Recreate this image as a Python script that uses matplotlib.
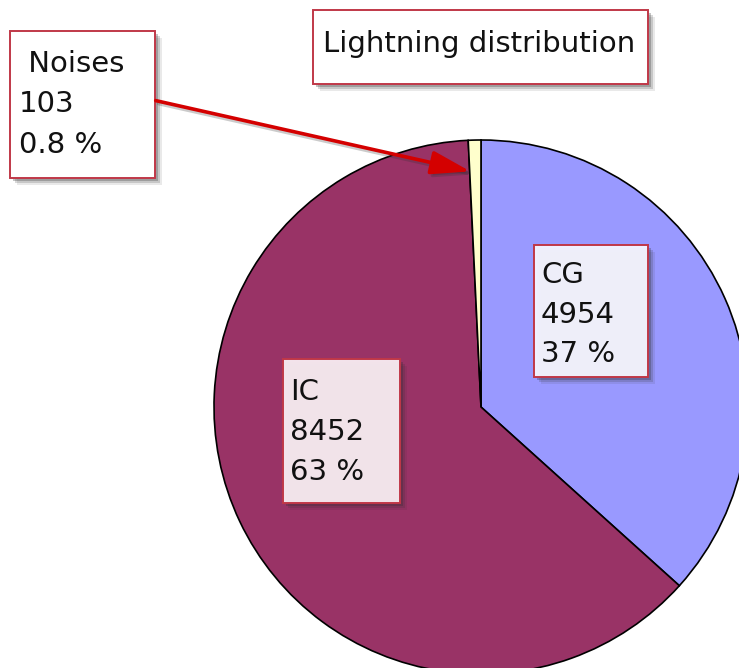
import matplotlib
matplotlib.use("Agg")
import matplotlib.pyplot as plt
from matplotlib.patches import Rectangle, FancyArrowPatch

# data
names = ["CG", "IC", "Noises"]
counts = [4954, 8452, 103]
colors = ["#9999ff", "#993366", "#ffffcc"]
title_text = "Lightning distribution"

W, H = 739, 668


def fx(px):
    return px / W


def fy(py):
    return 1 - py / H


def pct_label(value, total):
    pct = value / total * 100
    if pct < 1:
        return f"{pct:.1f} %"
    return f"{pct:.0f} %"


def draw_box(fig, x0, y0, x1, y1, face="white", alpha=1.0):
    # soft shadow
    for off, a in [(7, 0.10), (5, 0.18), (3, 0.28)]:
        fig.add_artist(Rectangle((fx(x0 + off), fy(y1 + off)), fx(x1) - fx(x0),
                                 fy(y0) - fy(y1), transform=fig.transFigure,
                                 facecolor="#303030", edgecolor="none",
                                 alpha=a, zorder=4))
    fig.add_artist(Rectangle((fx(x0), fy(y1)), fx(x1) - fx(x0), fy(y0) - fy(y1),
                             transform=fig.transFigure, facecolor=face,
                             alpha=alpha, edgecolor="none", zorder=5))
    fig.add_artist(Rectangle((fx(x0), fy(y1)), fx(x1) - fx(x0), fy(y0) - fy(y1),
                             transform=fig.transFigure, facecolor="none",
                             edgecolor="#c03848", linewidth=1.4, zorder=6))


def draw_lines(fig, x, baselines, lines):
    for yb, s in zip(baselines, lines):
        fig.text(fx(x), fy(yb), s, fontsize=21, family="DejaVu Sans",
                 ha="left", va="baseline", color="#111111", zorder=7)


fig = plt.figure(figsize=(W / 100, H / 100), dpi=100)
ax = fig.add_axes([0, 0, 1, 1])

# pie centre at pixel (481, 407), radius 267 px
cx, cy, r = 481, 407, 267
ax.pie(counts, colors=colors, startangle=90, counterclock=False,
       wedgeprops=dict(edgecolor="black", linewidth=1.2))
ax.set_xlim(-cx / r, (W - cx) / r)
ax.set_ylim(-(H - cy) / r, cy / r)
ax.axis("off")

total = sum(counts)
labels = {n: [(" " + n) if n == "Noises" else n, str(c), pct_label(c, total)]
          for n, c in zip(names, counts)}

# title box
draw_box(fig, 313, 10, 648, 84)
fig.text(fx(323), fy(52), title_text, fontsize=21, family="DejaVu Sans",
         ha="left", va="baseline", color="#111111", zorder=7)

# label boxes
draw_box(fig, 534, 245, 648, 377, face="#f6f6ff", alpha=0.95)
draw_lines(fig, 541, [283, 323, 362], labels["CG"])

draw_box(fig, 283, 359, 400, 503, face="#f9eef3", alpha=0.95)
draw_lines(fig, 290, [400, 440, 480], labels["IC"])

draw_box(fig, 10, 31, 155, 178)
draw_lines(fig, 19, [72, 112, 153], labels["Noises"])

# arrow to the Noises slice
for off, col, a in [(3, "#303030", 0.25), (0, "#d40000", 1.0)]:
    fig.add_artist(FancyArrowPatch((fx(153 + off), fy(100 + off)),
                                   (fx(473 + off), fy(172 + off)),
                                   transform=fig.transFigure,
                                   arrowstyle="-|>,head_length=2.0,head_width=0.6",
                                   mutation_scale=12, color=col, alpha=a,
                                   linewidth=2.6, zorder=8))

fig.savefig("out.png", dpi=100)
